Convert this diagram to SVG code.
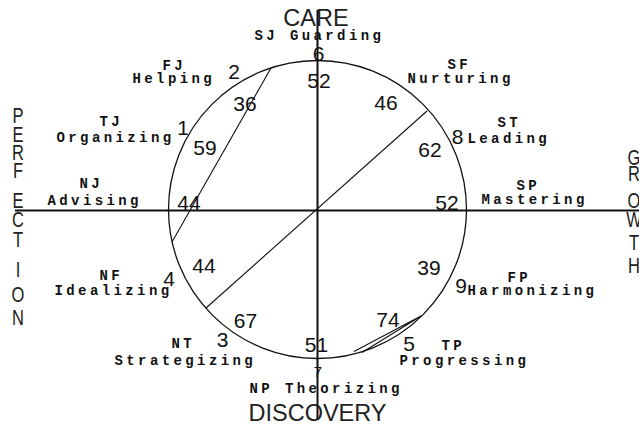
<svg xmlns="http://www.w3.org/2000/svg" width="639" height="427" viewBox="0 0 639 427">
<style>
.bg{fill:#fff}
.ax{stroke:#111;stroke-width:2;fill:none}
.ring{stroke:#111;stroke-width:1.3;fill:none}
.ch{stroke:#111;stroke-width:1.1;fill:none}
.big{font-family:"Liberation Sans",Arial,sans-serif;font-size:23.5px;fill:#222}
.vert{font-family:"Liberation Sans",Arial,sans-serif;font-size:22px;fill:#222;text-anchor:middle}
.num{font-family:"Liberation Sans",Arial,sans-serif;font-size:21px;fill:#111;text-anchor:middle}
.lab{font-family:"Liberation Mono","Courier New",monospace;font-size:14px;font-weight:bold;letter-spacing:3.4px;fill:#111}
</style>
<rect class="bg" x="0" y="0" width="639" height="427"/>
<g id="connectors">
<line class="ax" x1="15" y1="210.5" x2="639" y2="210.5"/>
<line class="ax" x1="317.5" y1="10" x2="317.5" y2="420"/>
<circle class="ring" cx="317.5" cy="209.5" r="149"/>
<line class="ch" x1="271" y1="68" x2="172" y2="242"/>
<line class="ch" x1="206" y1="308" x2="427" y2="111"/>
<polyline class="ch" points="354,351.5 421,316 362,352.5"/>
</g>
<g id="axis-care"><text class="big" x="316" y="26" text-anchor="middle">CARE</text></g>
<g id="axis-discovery"><text class="big" x="317.5" y="421" text-anchor="middle">DISCOVERY</text></g>
<g id="axis-perfection" transform="translate(18,0) scale(0.75,1)">
<text class="vert" x="0" y="123">P</text>
<text class="vert" x="0" y="142">E</text>
<text class="vert" x="0" y="160">R</text>
<text class="vert" x="0" y="178">F</text>
<text class="vert" x="0" y="208">E</text>
<text class="vert" x="0" y="227">C</text>
<text class="vert" x="0" y="247">T</text>
<text class="vert" x="0" y="277">I</text>
<text class="vert" x="0" y="302">O</text>
<text class="vert" x="0" y="325">N</text>
</g>
<g id="axis-growth" transform="translate(634,0) scale(0.75,1)">
<text class="vert" x="0" y="165">G</text>
<text class="vert" x="0" y="181">R</text>
<text class="vert" x="0" y="208">O</text>
<text class="vert" x="0" y="227">W</text>
<text class="vert" x="0" y="250">T</text>
<text class="vert" x="0" y="273">H</text>
</g>
<g id="node-SJ">
<text class="lab" x="254.5" y="39.5">SJ Guarding</text>
<text class="num" x="318.5" y="61">6</text>
<text class="num" x="319" y="88">52</text>
</g>
<g id="node-FJ">
<text class="lab" x="162.5" y="70">FJ</text>
<text class="lab" x="132.5" y="83">Helping</text>
<text class="num" x="234" y="79">2</text>
<text class="num" x="245" y="111">36</text>
</g>
<g id="node-TJ">
<text class="lab" x="99.5" y="126">TJ</text>
<text class="lab" x="56.5" y="142">Organizing</text>
<text class="num" x="183" y="135">1</text>
<text class="num" x="205" y="155">59</text>
</g>
<g id="node-NJ">
<text class="lab" x="79.5" y="188">NJ</text>
<text class="lab" x="47.5" y="205">Advising</text>
<text class="num" x="189" y="210">44</text>
</g>
<g id="node-NF">
<text class="lab" x="99.5" y="280">NF</text>
<text class="lab" x="54.5" y="295">Idealizing</text>
<text class="num" x="169" y="286">4</text>
<text class="num" x="204" y="273">44</text>
</g>
<g id="node-NT">
<text class="lab" x="171.5" y="348">NT</text>
<text class="lab" x="114.5" y="365">Strategizing</text>
<text class="num" x="222.5" y="347">3</text>
<text class="num" x="245.5" y="328">67</text>
</g>
<g id="node-NP">
<text class="lab" x="249.5" y="393">NP Theorizing</text>
<text class="num" x="318" y="377" style="font-size:15px">7</text>
<text class="num" x="316.5" y="352">51</text>
</g>
<g id="node-TP">
<text class="lab" x="441.5" y="350">TP</text>
<text class="lab" x="399.5" y="365">Progressing</text>
<text class="num" x="409" y="351">5</text>
<text class="num" x="388" y="327">74</text>
</g>
<g id="node-FP">
<text class="lab" x="507.5" y="282">FP</text>
<text class="lab" x="467.5" y="295">Harmonizing</text>
<text class="num" x="461" y="293">9</text>
<text class="num" x="429" y="275">39</text>
</g>
<g id="node-SP">
<text class="lab" x="516.5" y="190">SP</text>
<text class="lab" x="481.5" y="204">Mastering</text>
<text class="num" x="447" y="210">52</text>
</g>
<g id="node-ST">
<text class="lab" x="497.5" y="127">ST</text>
<text class="lab" x="467.5" y="143">Leading</text>
<text class="num" x="457.5" y="144">8</text>
<text class="num" x="430" y="157">62</text>
</g>
<g id="node-SF">
<text class="lab" x="447.5" y="69">SF</text>
<text class="lab" x="407.5" y="83">Nurturing</text>
<text class="num" x="386" y="110">46</text>
</g>
</svg>
